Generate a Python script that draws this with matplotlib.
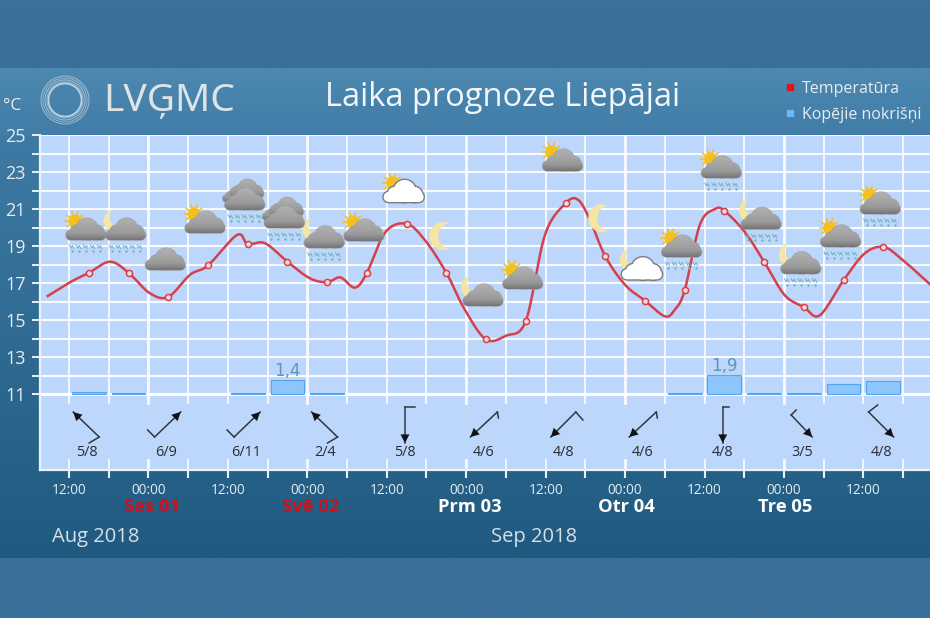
import numpy as np
import matplotlib
matplotlib.use("Agg")
import matplotlib.pyplot as plt
from matplotlib.path import Path
from matplotlib.patches import Circle, PathPatch
from matplotlib.lines import Line2D

plt.rcParams['font.family'] = ['Open Sans', 'DejaVu Sans']

# ---------- data ----------
curve_hours = [8.8,12.2,15,18.2,21,24.2,27,30.3,33,37.4,39,41.6,45,48.4,51,53,55.2,57,59.8,63,65.8,69,71.8,75,78,81,83.9,87,88.9,90.7,93,96,99,102,103.5,105,107.3,109.6,111,114.1,117,120.1,123,125.4,129,132.2,135,137.6,142]
curve_temps = [16.3,17.05,17.55,18.15,17.55,16.45,16.25,17.45,17.95,19.6,19.1,19.15,18.15,17.25,17.05,17.3,16.75,17.55,19.75,20.2,19.3,17.55,15.55,13.95,14.15,14.95,19.6,21.3,21.5,20.4,18.45,16.9,16.05,15.2,15.55,16.6,20.15,21.0,20.9,19.75,18.15,16.35,15.7,15.25,17.15,18.6,18.95,18.35,16.95]
marker_hours = [15,21,27,33,39,45,51,57,63,69,75,81,87,93,99,105,111,117,123,129,135]
precip_hours = [15,21,39,45,51,105,111,117,123,129,135]
precip_mm = [0.25,0.1,0.1,1.4,0.1,0.1,1.9,0.1,0.1,1.0,1.3]
precip_labels = {45:"1,4", 111:"1,9"}
wind_hours = [15,27,39,51,63,75,87,99,111,123,135]
wind_dir = ["NW","NE","NE","NW","S","SW","SWb","SW","Sb","SE","SEb"]
wind_labels = ["5/8","6/9","6/11","2/4","5/8","4/6","4/8","4/6","4/8","3/5","4/8"]
time_ticks = [12,24,36,48,60,72,84,96,108,120,132]
time_labels = ["12:00","00:00"]*5+["12:00"]
day_hours = [24.5,48.5,72.5,96.2,120.2]
day_labels = ["Ses 01","Svē 02","Prm 03","Otr 04","Tre 05"]
day_colors = ["#d0101c","#d0101c","white","white","white"]
icon_hours = marker_hours
icon_kind = ["sun","moon","cloud","sun","double","double","moon","sun","sunwhite","moononly","moon","sun","sun","moononly","moonwhite","sun","sun","moon","moon","sun","sun"]
icon_rain = [1,1,0,0,1,1,1,0,0,0,0,0,0,0,0,1,1,1,1,1,1]
icon_level = [19.32,19.32,17.7,19.7,20.95,19.97,18.9,19.27,21.38,19.54,15.76,16.68,23.05,20.5,17.2,18.4,22.68,19.9,17.5,18.95,20.73]

# ---------- layout ----------
W, H = 930, 618
fig = plt.figure(figsize=(W/100, H/100), dpi=100)
PL, PT, PR, PB = 40, 135, 930, 470
bg = fig.add_axes([0,0,1,1], zorder=0)
bg.set_xlim(0,W); bg.set_ylim(H,0); bg.axis('off')
def vgrad(a, x0,x1,y0,y1,c0,c1,**kw):
    c0=np.array(matplotlib.colors.to_rgb(c0)); c1=np.array(matplotlib.colors.to_rgb(c1))
    t=np.linspace(0,1,64)[:,None,None]
    img=(c0[None,None,:]*(1-t)+c1[None,None,:]*t)
    return a.imshow(img,extent=[x0,x1,y1,y0],aspect='auto',interpolation='bilinear',**kw)
vgrad(bg,0,W,0,68,"#3d7199","#3a6f97")
vgrad(bg,0,W,68,135,"#4d88b1","#427da7")
vgrad(bg,0,W,135,558,"#3f7aa4","#205a80")
vgrad(bg,0,W,558,618,"#3b7099","#3b7099")
bg.set_xlim(0,W); bg.set_ylim(H,0)

# logo
for r,a in [(24,.5),(22,.45),(20,.55),(18,.5),(16.5,.8)]:
    bg.add_patch(Circle((65,100),r,fill=False,ec="#dfe8ee",lw=0.8 if r>17 else 1.2,alpha=a))
bg.text(103,101,"LVĢMC",color="#dde4e8",fontsize=28,va='center',ha='left',family=['Noto Sans'])
bg.text(325,98,"Laika prognoze Liepājai",color="#f2f6f8",fontsize=23.5,va='center',ha='left')
bg.text(3,106,"°C",color="#e8eef2",fontsize=12.5,va='center',ha='left')
bg.text(52,537,"Aug 2018",color="#d6e0e8",fontsize=14.5,va='center')
bg.text(491,537,"Sep 2018",color="#d6e0e8",fontsize=14.5,va='center')

# main axes
ax = fig.add_axes([PL/W, 1-PB/H, (PR-PL)/W, (PB-PT)/H], zorder=1)
px_h, px_t = 6.62, 18.5
ax.set_xlim(12+(PL-69)/px_h, 12+(PR-69)/px_h)
ax.set_ylim(25-(PB-135)/px_t, 25)
ax.set_facecolor("#bdd6fb")
for s in ['top','right']: ax.spines[s].set_visible(False)
for s in ['left','bottom']:
    ax.spines[s].set_color('#eaf2fb'); ax.spines[s].set_linewidth(1.6)
def T(py): return 25-(py-135)/px_t
ax.set_yticks(range(11,26,2)); ax.set_yticks(range(12,25,2),minor=True)
ax.tick_params(axis='y',which='both',color='#e8f0f8',length=6,width=1.4,labelcolor='#e4ecf2',labelsize=13,pad=4)
ax.grid(axis='y',which='both',color='white',lw=1.5,alpha=.9)
ax.axhline(11,color='white',lw=2.2)
ax.set_axisbelow(True)
ax.set_xticks(time_ticks); ax.set_xticklabels(time_labels)
ax.set_xticks(np.arange(18,142,12),minor=True)
ax.tick_params(axis='x',which='both',color='#e8f0f8',length=6,width=1.5,labelcolor='#e4ecf2',labelsize=9.8,pad=3)
# vertical grid
for h in np.arange(12,142,6):
    lw = 2.0 if h%24==0 else 1.3
    ax.plot([h,h],[T(403),25],color='white',lw=lw,alpha=.9,zorder=1)
    ax.plot([h,h],[T(460),T(470)],color='white',lw=lw,alpha=.9,zorder=1)

# precipitation
scale = 10/px_t
ax.bar(precip_hours,np.array(precip_mm)*scale,bottom=11,width=5.1,color="#8cc6fd",edgecolor="#55a5ef",lw=0.8,zorder=2)
for h,m in zip(precip_hours,precip_mm):
    if h in precip_labels:
        ax.text(h,11+m*scale+0.02,precip_labels[h],color="#5e96bd",fontsize=12,ha='center',va='bottom',zorder=2,family=['DejaVu Sans'])

# temperature curve: Catmull-Rom through read points
xs=np.array(curve_hours); ys=np.array(curve_temps)
cx=[];cy=[]
for i in range(len(xs)-1):
    i0=max(i-1,0); i3=min(i+2,len(xs)-1)
    t=np.linspace(0,1,14)[:-1]
    m1x=(xs[i+1]-xs[i0])/(2 if i>0 else 1); m2x=(xs[i3]-xs[i])/(2 if i3>i+1 else 1)
    m1y=(ys[i+1]-ys[i0])/(2 if i>0 else 1); m2y=(ys[i3]-ys[i])/(2 if i3>i+1 else 1)
    a=2*t**3-3*t**2+1;b=t**3-2*t**2+t;c=-2*t**3+3*t**2;d=t**3-t**2
    cx+=list(a*xs[i]+b*m1x+c*xs[i+1]+d*m2x); cy+=list(a*ys[i]+b*m1y+c*ys[i+1]+d*m2y)
cx.append(xs[-1]);cy.append(ys[-1])
ax.plot(cx,cy,color="#d6404c",lw=1.8,zorder=4)
my=[curve_temps[curve_hours.index(h)] for h in marker_hours]
ax.plot(marker_hours,my,ls='none',marker='o',ms=4.4,mfc='#f8dcdc',mec='#d6404c',mew=1.1,zorder=5)

# wind arrows: head, tail and barb offsets in pixels for each shape
wind_shape = {"NW":((-13,-13),(13,12),(-10,6)), "NE":((15,-13),(-11,12),(-7,-7)),
              "S":((1,18),(1,-18),(10,0)), "Sb":((1,18),(1,-18),(6,0)),
              "SW":((-13,12),(14,-13),(1,6)), "SWb":((-12,12),(13,-13),(7,8)),
              "SE":((11,12),(-10,-10),(5,-5)), "SEb":((13,12),(-12,-13),(9,-7))}
wk=dict(color="#33373d",lw=1.1,zorder=3,clip_on=False)
cyp=425
for h,d,l in zip(wind_hours,wind_dir,wind_labels):
    head,tail,barb=wind_shape[d]
    X=lambda p:h+p/px_h-0.4
    Y=lambda p:T(cyp+p)
    ax.plot([X(tail[0]),X(head[0])],[Y(tail[1]),Y(head[1])],**wk)
    ax.plot([X(tail[0]),X(tail[0]+barb[0])],[Y(tail[1]),Y(tail[1]+barb[1])],**wk)
    ax.annotate("",xy=(X(head[0]),Y(head[1])),xytext=(X(head[0]*0.6+tail[0]*0.4),Y(head[1]*0.6+tail[1]*0.4)),
                arrowprops=dict(arrowstyle='-|>,head_width=0.32,head_length=0.62',color='#101216',lw=0,shrinkA=0,shrinkB=0,mutation_scale=10),zorder=3)
    ax.text(h-0.3,T(452),l,fontsize=10.4,color="#2a2e33",ha='center',va='center',zorder=3)

# day labels
for h,l,c in zip(day_hours,day_labels,day_colors):
    ax.text(h,T(507),l,color=c,fontsize=13.2,fontweight='bold',ha='center',va='center',clip_on=False)

# overlay for icons and legend
ov = fig.add_axes([0,0,1,1], zorder=2, facecolor='none')
ov.axis('off')
ov.set_xlim(0,W); ov.set_ylim(H,0)

def circ(cx,cy,r,n=40):
    th=np.linspace(0,2*np.pi,n)
    return np.c_[cx+r*np.cos(th),cy+r*np.sin(th)]
def rr(x0,x1,y0,y1,n=12):
    r=(y1-y0)/2
    a=np.linspace(np.pi/2,3*np.pi/2,n)
    left=np.c_[x0+r+r*np.cos(a),y0+r+r*np.sin(a)]
    b=np.linspace(-np.pi/2,np.pi/2,n)
    right=np.c_[x1-r+r*np.cos(b),y0+r+r*np.sin(b)]
    return np.r_[left,right]
def cloud_path(x,y,s=1.0):
    polys=[rr(x-20*s,x+20*s,y-10*s,y), circ(x+1*s,y-11*s,11*s), circ(x-9*s,y-8*s,7*s), circ(x+11*s,y-7.5*s,7.5*s)]
    verts=[];codes=[]
    for p in polys:
        p=np.r_[p,[p[0]]]
        area=np.sum(p[:-1,0]*p[1:,1]-p[1:,0]*p[:-1,1])
        if area<0:p=p[::-1]
        verts+=list(p);codes+=[Path.MOVETO]+[Path.LINETO]*(len(p)-2)+[Path.CLOSEPOLY]
    return Path(np.array(verts),codes)
def cloud(x,y,white=False,s=1.0,zo=3):
    path=cloud_path(x,y,s)
    if white:
        ov.add_patch(PathPatch(path,fc='white',ec='#7c7c7c',lw=2.0,zorder=zo))
        ov.add_patch(PathPatch(path,fc='white',ec='none',zorder=zo+.01))
        return
    stops=[.70,.62,.60,.46]
    v=np.interp(np.linspace(0,1,32),[0,.6,.72,1],stops)
    img=np.stack([v,v,v],axis=1)[:,None,:]
    ov.add_patch(PathPatch(path,fc='#8e8e8e',ec='#9a9a9a',lw=1.0,alpha=.7,zorder=zo))
    im=ov.imshow(img,extent=[x-21*s,x+21*s,y,y-23*s],aspect='auto',zorder=zo+.01,interpolation='bilinear')
    im.set_clip_path(PathPatch(path,transform=ov.transData))
def sun(x,y):
    for a in np.linspace(0,2*np.pi,11)[:-1]:
        ov.plot([x+5*np.cos(a),x+9.5*np.cos(a)],[y+5*np.sin(a),y+9.5*np.sin(a)],color='#f3c020',lw=1.1,zorder=2.5)
    ov.add_patch(Circle((x,y),6.5,fc='#f3c020',ec='none',zorder=2.6))
def moon(x,y,r=10,rot=0):
    a=np.radians(65); d=.55*r
    th=np.linspace(a,2*np.pi-a,30)
    outer=np.c_[r*np.cos(th),r*np.sin(th)]
    R0=np.hypot(r*np.cos(a)-d,r*np.sin(a))
    b=np.arctan2(r*np.sin(a),r*np.cos(a)-d)
    th2=np.linspace(2*np.pi-b,b,30)
    inner=np.c_[d+R0*np.cos(th2),R0*np.sin(th2)]
    p=np.r_[outer,inner]
    M=np.array([[np.cos(rot),-np.sin(rot)],[np.sin(rot),np.cos(rot)]])
    p=p@M.T+[x,y]
    ov.fill(p[:,0],p[:,1],color='#f5e6a4',zorder=2.5,lw=0)
def rain(x,y):
    for dx in np.linspace(-14,14,5):
        xx=x+dx+np.array([-2.5,-1,0.5,2])
        yy=y+np.array([0,3,0.5,3.5])
        ov.plot(xx,yy,color='#6fb2bc',lw=0.7,zorder=2.8)
        ov.plot([x+dx+0.5],[y+6],marker='.',ms=1.4,color='#6fb2bc',zorder=2.8)

for h,k,r,lv in zip(icon_hours,icon_kind,icon_rain,icon_level):
    x=69+(h-12)*px_h-3; y=135+(25-lv)*px_t
    if k=="moononly":
        moon(x,y,14,rot=0); continue
    if k.startswith('sun'): sun(x-11,y-19)
    if k.startswith('moon'): moon(x-10,y-19,12,rot=-0.7)
    if k=="double":
        cloud(x+2,y-12,s=.85,zo=3); cloud(x-8,y-8,s=.7,zo=2.9)
    cloud(x,y,white=k.endswith('white'),zo=3.5)
    if r: rain(x,y+5)
ov.set_xlim(0,W); ov.set_ylim(H,0)

handles=[Line2D([],[],ls='none',marker='s',ms=5,color='#e8101c'),
         Line2D([],[],ls='none',marker='s',ms=5,color='#6ab8f8')]
leg=ov.legend(handles,["Temperatūra","Kopējie nokrišņi"],loc='upper right',bbox_to_anchor=(921/W,1-81/H),
          frameon=False,fontsize=11.5,labelcolor='#e6edf2',labelspacing=0.62,handletextpad=0.25,borderpad=0,borderaxespad=0,handlelength=1)
fig.savefig("out.png",dpi=100)
